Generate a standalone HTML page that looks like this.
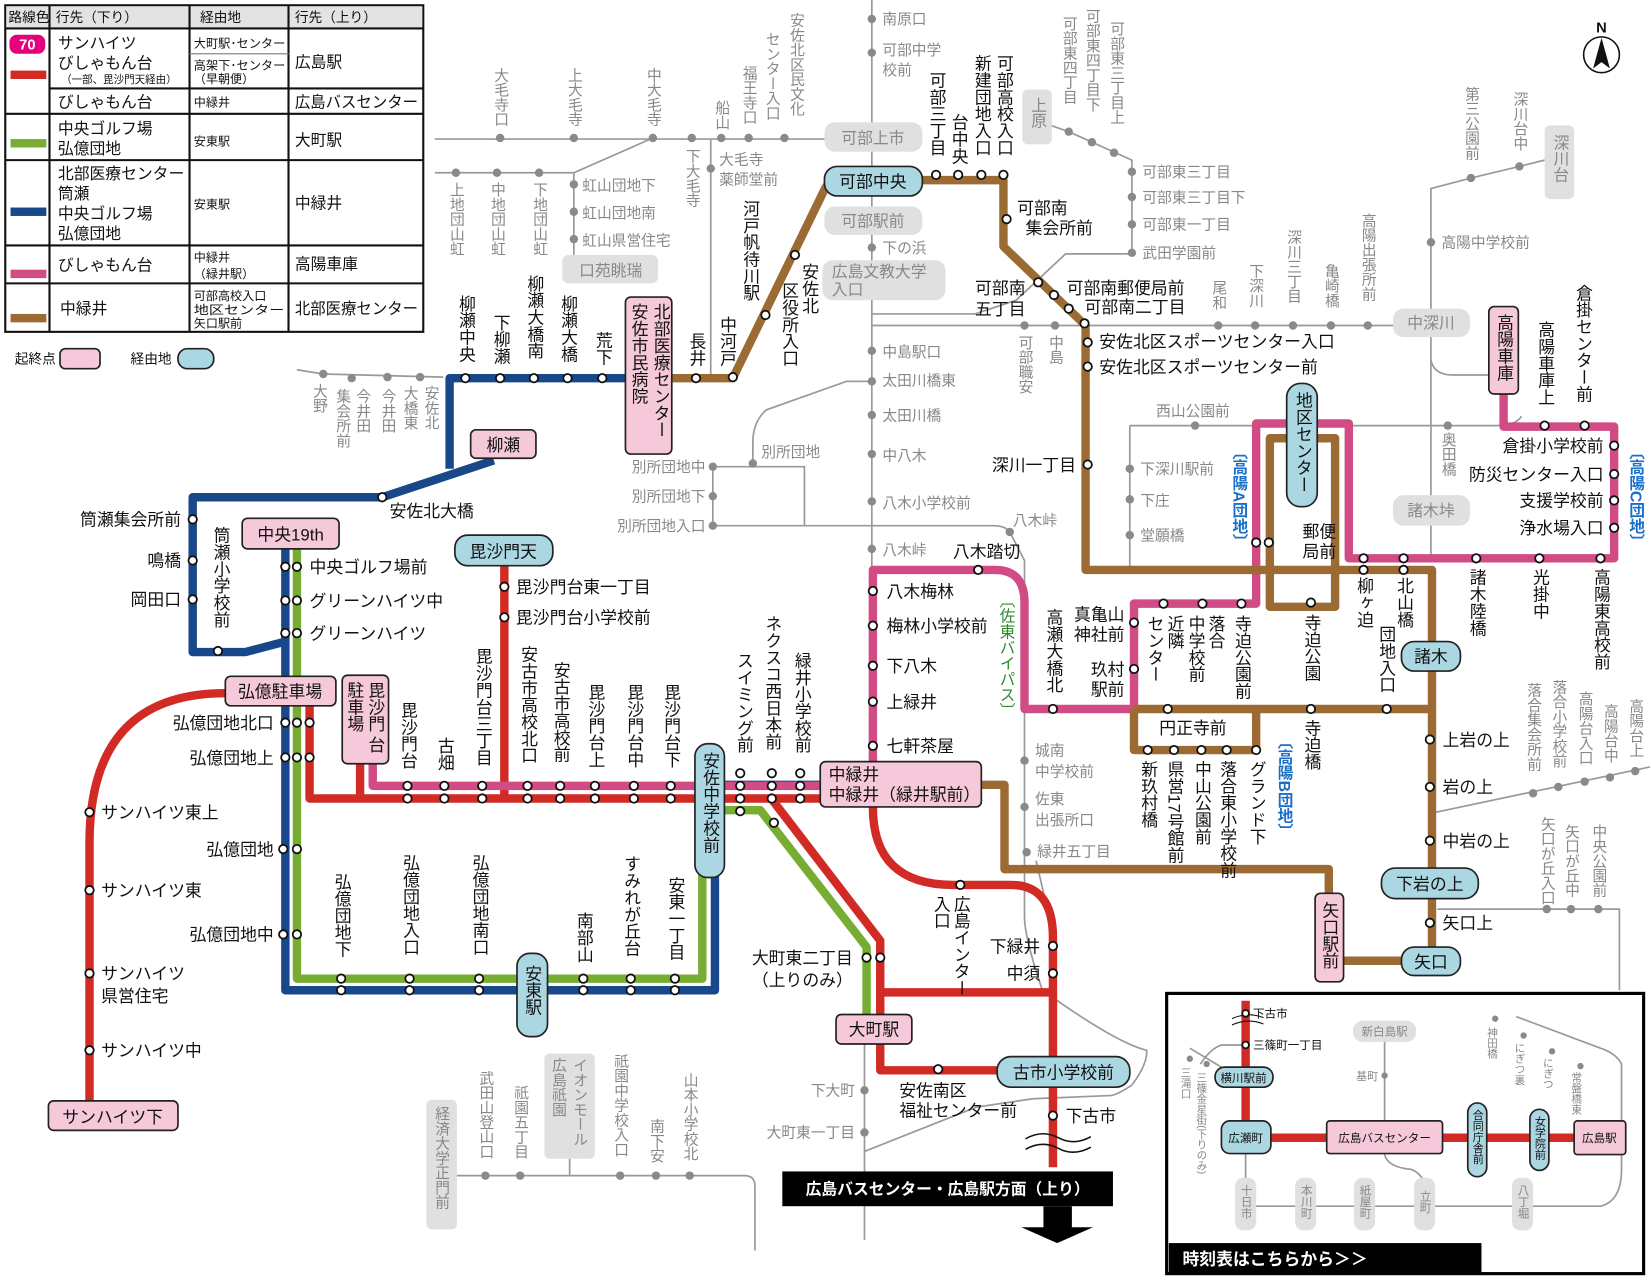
<!DOCTYPE html>
<html><head><meta charset="utf-8"><style>
html,body{margin:0;padding:0;background:#fff;}
svg{display:block;}
text{font-family:"Liberation Sans","Noto Sans CJK JP",sans-serif;}
.b{font-size:16px;fill:#111;}
.g{font-size:14px;fill:#888;}
.v{writing-mode:vertical-rl;}
.r{fill:none;stroke-linejoin:round;stroke-linecap:butt;stroke-width:8;}
.gl{fill:none;stroke:#999;stroke-width:1.6;}
.st{fill:#fff;stroke:#111;stroke-width:1.7;}
.gs{fill:#8a8a8a;}
.pb{fill:#f5c8da;stroke:#222;stroke-width:1.6;}
.bb{fill:#abd7e2;stroke:#222;stroke-width:1.6;}
.gb{fill:#e0e0e0;}
</style></head><body>
<svg width="1651" height="1281" viewBox="0 0 1568 1216" preserveAspectRatio="none" xmlns="http://www.w3.org/2000/svg">
<rect width="1568" height="1216" fill="#fff"/>

<!-- ===== TABLE ===== -->
<g stroke="#111" stroke-width="2" fill="none">
<rect x="5" y="5" width="397" height="310"/>
</g>
<rect x="6" y="6" width="395" height="21" fill="#e3e3e3"/>
<g stroke="#111" stroke-width="2">
<line x1="5" y1="27" x2="402" y2="27"/>
<line x1="47" y1="84" x2="402" y2="84"/>
<line x1="5" y1="108" x2="402" y2="108"/>
<line x1="5" y1="152" x2="402" y2="152"/>
<line x1="5" y1="233" x2="402" y2="233"/>
<line x1="5" y1="269" x2="402" y2="269"/>
<line x1="47" y1="5" x2="47" y2="315"/>
<line x1="180" y1="5" x2="180" y2="315"/>
<line x1="274" y1="5" x2="274" y2="315"/>
</g>
<line x1="180" y1="51" x2="274" y2="51" stroke="#888" stroke-width="1.2"/>
<g font-size="13" fill="#111">
<text x="8" y="21">路線色</text><text x="53" y="21">行先（下り）</text><text x="190" y="21">経由地</text><text x="280" y="21">行先（上り）</text>
</g>
<rect x="9" y="33" width="34" height="18" rx="7" fill="#e5007e"/>
<text x="26" y="47" font-size="14" font-weight="bold" fill="#fff" text-anchor="middle">70</text>
<rect x="10" y="67" width="34" height="8" fill="#d22a24"/>
<rect x="10" y="132" width="34" height="8" fill="#77ad33"/>
<rect x="10" y="197" width="34" height="8" fill="#18488a"/>
<rect x="10" y="256" width="34" height="8" fill="#d14b85"/>
<rect x="10" y="298" width="34" height="8" fill="#9c6a33"/>
<g font-size="15" fill="#111">
<text x="55" y="46">サンハイツ</text><text x="55" y="65">びしゃもん台</text>
<text x="55" y="102">びしゃもん台</text>
<text x="55" y="127">中央ゴルフ場</text><text x="55" y="146">弘億団地</text>
<text x="55" y="170" textLength="120" lengthAdjust="spacingAndGlyphs">北部医療センター</text><text x="55" y="189">筒瀬</text><text x="55" y="208">中央ゴルフ場</text><text x="55" y="227">弘億団地</text>
<text x="55" y="257">びしゃもん台</text>
<text x="57" y="298">中緑井</text>
<text x="280" y="64">広島駅</text><text x="280" y="102" textLength="117" lengthAdjust="spacingAndGlyphs">広島バスセンター</text><text x="280" y="138">大町駅</text><text x="280" y="198">中緑井</text><text x="280" y="256">高陽車庫</text><text x="280" y="298" textLength="117" lengthAdjust="spacingAndGlyphs">北部医療センター</text>
</g>
<text x="58" y="79" font-size="10" fill="#111">（一部、毘沙門天経由）</text>
<g font-size="11.5" fill="#111">
<text x="184" y="45" textLength="87" lengthAdjust="spacingAndGlyphs">大町駅･センター</text><text x="184" y="66" textLength="87" lengthAdjust="spacingAndGlyphs">高架下･センター</text><text x="184" y="79">（早朝便）</text>
<text x="184" y="101">中緑井</text><text x="184" y="138">安東駅</text><text x="184" y="198">安東駅</text>
<text x="184" y="248">中緑井</text><text x="184" y="264">（緑井駅）</text>
<text x="184" y="285">可部高校入口</text><text x="184" y="298" textLength="86" lengthAdjust="spacingAndGlyphs">地区センター</text><text x="184" y="311">矢口駅前</text>
</g>
<text x="14" y="345" font-size="13" fill="#111">起終点</text>
<rect x="57" y="331" width="38" height="19" rx="5" class="pb"/>
<text x="124" y="345" font-size="13" fill="#111">経由地</text>
<rect x="169" y="331" width="34" height="19" rx="9" class="bb"/>

<!-- ===== GRAY LINES ===== -->
<g class="gl">
<path d="M413,132 H783"/>
<path d="M413,164 H545 L620,131"/>
<path d="M545,164 V242"/>
<path d="M675,132 V358"/>
<path d="M828,0 V541"/>
<path d="M876,132 H828"/>
<path d="M282,351 L307,355 L421,358"/>
<path d="M828,298 H926 L965,285 L1012,241 H1075 V152 L1015,125 L995,118"/>
<path d="M828,309 H1323"/>
<path d="M1396,309 H1359"/>
<path d="M1359,530 V179 L1397,169 L1443,158 L1467,152"/>
<path d="M1359,342 Q1362,356 1380,356 H1414"/>
<path d="M804,362 L728,389 Q715,400 715,420 V443"/>
<path d="M828,362 H804"/>
<path d="M677,443 H764 V499"/>
<path d="M677,443 V499 H943 Q955,499 959,505 L973,532 V870 Q973,890 990,940 Q1060,990 1089,997 Q1090,1010 1075,1030 Q1060,1040 1054,1040 L981,1043 L927,1051 L821,1093"/>
<path d="M1073,404 H1193 M1073,404 V541"/>
<path d="M1281,404 H1420 Q1440,404 1445,395"/>
<path d="M1364,771 L1567,728"/>
<path d="M1365,863 H1538 V940"/>
<path d="M821,991 V1177"/>
<path d="M434,1116 H707 Q717,1116 717,1126 V1187"/>
<path d="M541,1100 V1116"/>
<path d="M984,817 L1000,886"/>
</g>
<g class="gs">
<circle cx="475" cy="131" r="4"/><circle cx="545" cy="131" r="4"/><circle cx="620" cy="131" r="4"/><circle cx="657" cy="131" r="4"/><circle cx="685" cy="131" r="4"/><circle cx="711" cy="131" r="4"/><circle cx="745" cy="131" r="4"/>
<circle cx="433" cy="164" r="4"/><circle cx="472" cy="164" r="4"/><circle cx="512" cy="164" r="4"/>
<circle cx="545" cy="175" r="4"/><circle cx="545" cy="201" r="4"/><circle cx="545" cy="227" r="4"/>
<circle cx="675" cy="160" r="4"/>
<circle cx="828" cy="18" r="4"/><circle cx="828" cy="50" r="4"/><circle cx="828" cy="235" r="4"/><circle cx="828" cy="333" r="4"/><circle cx="828" cy="362" r="4"/><circle cx="828" cy="394" r="4"/><circle cx="828" cy="431" r="4"/><circle cx="828" cy="476" r="4"/><circle cx="828" cy="521" r="4"/>
<circle cx="307" cy="355" r="4"/><circle cx="334" cy="359" r="4"/><circle cx="368" cy="358" r="4"/><circle cx="399" cy="358" r="4"/>
<circle cx="677" cy="443" r="4"/><circle cx="677" cy="471" r="4"/><circle cx="677" cy="499" r="4"/><circle cx="715" cy="440" r="4"/><circle cx="959" cy="505" r="4"/>
<circle cx="1015" cy="125" r="4"/><circle cx="1037" cy="135" r="4"/><circle cx="1058" cy="145" r="4"/>
<circle cx="1075" cy="163" r="4"/><circle cx="1075" cy="187" r="4"/><circle cx="1075" cy="213" r="4"/><circle cx="1075" cy="240" r="4"/>
<circle cx="973" cy="309" r="4"/><circle cx="1002" cy="309" r="4"/>
<circle cx="1157" cy="309" r="4"/><circle cx="1192" cy="309" r="4"/><circle cx="1228" cy="309" r="4"/><circle cx="1264" cy="309" r="4"/><circle cx="1299" cy="309" r="4"/>
<circle cx="1397" cy="169" r="4"/><circle cx="1443" cy="158" r="4"/><circle cx="1359" cy="230" r="4"/>
<circle cx="1135" cy="404" r="4"/><circle cx="1073" cy="445" r="4"/><circle cx="1073" cy="474" r="4"/><circle cx="1073" cy="508" r="4"/><circle cx="1375" cy="404" r="4"/>
<circle cx="973" cy="722" r="4"/><circle cx="973" cy="766" r="4"/><circle cx="975" cy="809" r="4"/>
<circle cx="1456" cy="753" r="4"/><circle cx="1480" cy="747" r="4"/><circle cx="1505" cy="742" r="4"/><circle cx="1529" cy="738" r="4"/><circle cx="1553" cy="732" r="4"/>
<circle cx="1469" cy="863" r="4"/><circle cx="1492" cy="863" r="4"/><circle cx="1518" cy="863" r="4"/>
<circle cx="821" cy="1035" r="4"/><circle cx="821" cy="1075" r="4"/>
<circle cx="461" cy="1116" r="4"/><circle cx="494" cy="1116" r="4"/><circle cx="589" cy="1116" r="4"/><circle cx="623" cy="1116" r="4"/><circle cx="655" cy="1116" r="4"/>
</g>

<!-- gray boxes -->
<g class="gb">
<rect x="783" y="116" width="93" height="28" rx="10"/>
<rect x="783" y="196" width="93" height="27" rx="10"/>
<rect x="781" y="247" width="117" height="38" rx="10"/>
<rect x="971" y="85" width="28" height="52" rx="5"/>
<rect x="534" y="242" width="91" height="27" rx="6"/>
<rect x="1323" y="293" width="73" height="27" rx="10"/>
<rect x="1467" y="119" width="28" height="70" rx="5"/>
<rect x="1323" y="470" width="73" height="29" rx="10"/>
<rect x="405" y="1044" width="29" height="123" rx="5"/>
<rect x="517" y="1000" width="48" height="100" rx="5"/>
</g>
<g class="g" fill="#888">
<text x="829" y="136" text-anchor="middle" font-size="15" fill="#888">可部上市</text>
<text x="829" y="215" text-anchor="middle" font-size="15" fill="#888">可部駅前</text>
<text x="790" y="263" font-size="15" fill="#888">広島文教大学</text><text x="790" y="280" font-size="15" fill="#888">入口</text>
<text x="985" y="92" class="v" font-size="15" fill="#888">上原</text>
<text x="580" y="262" text-anchor="middle" font-size="15" fill="#888">口苑眺瑞</text>
<text x="1359" y="312" text-anchor="middle" font-size="15" fill="#888">中深川</text>
<text x="1481" y="128" class="v" font-size="15" fill="#888">深川台</text>
<text x="1359" y="490" text-anchor="middle" font-size="15" fill="#888">諸木垰</text>
<text x="419" y="1050" class="v" fill="#888">経済大学正門前</text>
<text x="550" y="1004" class="v" fill="#888">イオンモール</text>
<text x="530" y="1004" class="v" fill="#888">広島祇園</text>
</g>

<!-- gray labels -->
<g class="g">
<text x="475" y="64" class="v">大毛寺口</text>
<text x="545" y="64" class="v">上大毛寺</text>
<text x="620" y="64" class="v">中大毛寺</text>
<text x="657" y="141" class="v">下大毛寺</text>
<text x="685" y="95" class="v">船山</text>
<text x="711" y="62" class="v">福王寺口</text>
<text x="733" y="30" class="v">センター入口</text>
<text x="756" y="12" class="v">安佐北区民文化</text>
<text x="433" y="173" class="v">上地団山虹</text>
<text x="472" y="173" class="v">中地団山虹</text>
<text x="512" y="173" class="v">下地団山虹</text>
<text x="553" y="181">虹山団地下</text><text x="553" y="207">虹山団地南</text><text x="553" y="233">虹山県営住宅</text>
<text x="683" y="156">大毛寺</text><text x="683" y="175">薬師堂前</text>
<text x="838" y="23">南原口</text><text x="838" y="52">可部中学</text><text x="838" y="71">校前</text>
<text x="838" y="240">下の浜</text><text x="838" y="339">中島駅口</text><text x="838" y="366">太田川橋東</text><text x="838" y="399">太田川橋</text><text x="838" y="437">中八木</text><text x="838" y="482">八木小学校前</text><text x="838" y="527">八木峠</text>
<text x="670" y="448" text-anchor="end">別所団地中</text><text x="670" y="476" text-anchor="end">別所団地下</text><text x="670" y="504" text-anchor="end">別所団地入口</text>
<text x="723" y="434">別所団地</text><text x="962" y="499">八木峠</text>
<text x="303" y="364" class="v">大野</text>
<text x="325" y="369" class="v">集会所前</text>
<text x="344" y="369" class="v">今井田</text>
<text x="368" y="369" class="v">今井田</text>
<text x="389" y="366" class="v">大橋東</text>
<text x="409" y="366" class="v">安佐北</text>
<text x="1015" y="15" class="v">可部東四丁目</text>
<text x="1037" y="8" class="v">可部東四丁目下</text>
<text x="1060" y="20" class="v">可部東三丁目上</text>
<text x="1085" y="168">可部東三丁目</text><text x="1085" y="192">可部東三丁目下</text><text x="1085" y="218">可部東一丁目</text><text x="1085" y="245">武田学園前</text>
<text x="973" y="318" class="v">可部職安</text>
<text x="1002" y="318" class="v">中島</text>
<text x="1157" y="266" class="v">尾和</text>
<text x="1192" y="250" class="v">下深川</text>
<text x="1228" y="218" class="v">深川三丁目</text>
<text x="1264" y="250" class="v">亀崎橋</text>
<text x="1299" y="202" class="v">高陽出張所前</text>
<text x="1397" y="82" class="v">第三公園前</text>
<text x="1443" y="87" class="v">深川台中</text>
<text x="1369" y="235">高陽中学校前</text>
<text x="1098" y="395">西山公園前</text>
<text x="1083" y="450">下深川駅前</text><text x="1083" y="480">下庄</text><text x="1083" y="513">堂願橋</text>
<text x="1375" y="410" class="v">奥田橋</text>
<text x="983" y="717">城南</text><text x="983" y="737">中学校前</text><text x="983" y="763">佐東</text><text x="983" y="783">出張所口</text><text x="985" y="813">緑井五丁目</text>
<text x="1456" y="648" class="v">落合集会所前</text>
<text x="1480" y="645" class="v">落合小学校前</text>
<text x="1505" y="656" class="v">高陽台入口</text>
<text x="1529" y="668" class="v">高陽台中</text>
<text x="1553" y="663" class="v">高陽台上</text>
<text x="1469" y="775" class="v">矢口が丘入口</text>
<text x="1492" y="782" class="v">矢口が丘中</text>
<text x="1518" y="782" class="v">中央公園前</text>
<text x="812" y="1040" text-anchor="end">下大町</text><text x="812" y="1080" text-anchor="end">大町東一丁目</text>
<text x="461" y="1016" class="v">武田山登山口</text>
<text x="494" y="1030" class="v">祇園五丁目</text>
<text x="589" y="1000" class="v">祇園中学校入口</text>
<text x="623" y="1062" class="v">南下安</text>
<text x="655" y="1018" class="v">山本小学校北</text>
</g>

<!-- ===== ROUTES ===== -->
<path class="r" stroke="#77ad33" d="M282,521 V929 H667 V769 H722 L823,899 V964"/>
<path class="r" stroke="#18488a" d="M594,359 H427 V445"/>
<path class="r" stroke="#18488a" d="M469,437 L363,472 H183 V619 H233 L271,609"/>
<path class="r" stroke="#18488a" d="M271,521 V940 H679 V745 H779"/>
<path class="r" stroke="#d22a24" d="M85,1045 V800 Q85,658 214,658"/>
<path class="r" stroke="#d22a24" d="M294,670 V758 H779"/>
<path class="r" stroke="#d22a24" d="M342,725 V758"/>
<path class="r" stroke="#d22a24" d="M479,537 V758"/>
<path class="r" stroke="#d22a24" d="M829,766 Q829,840 905,840 H960 Q1000,840 1000,890 V1108"/>
<path class="r" stroke="#d22a24" d="M734,760 L836,893 V1016 H947"/>
<path class="r" stroke="#d22a24" d="M836,942 H1000"/>
<path class="r" stroke="#d14b85" d="M354,725 V746 H779"/>
<path class="r" stroke="#d14b85" d="M829,723 V541 H945 Q973,541 973,572 V673 H1077 V573 H1193 V402 H1281 V530 H1533 V405 H1428 V374"/>
<path class="r" stroke="#9c6a33" d="M638,359 H696 L783,180 Q787,171 800,171 H953 V234 L1031,309 V541 H1360 V905"/>
<path class="r" stroke="#9c6a33" d="M1206,416 V576 H1268 V416 Z"/>
<path class="r" stroke="#9c6a33" d="M1077,673 H1360 M1077,673 V712 H1193 V673"/>
<path class="r" stroke="#9c6a33" d="M1331,912 H1262 V825 H954 V745 H932"/>

<!-- ===== STOPS ===== -->
<g class="st">
<circle cx="442" cy="359" r="4"/><circle cx="475" cy="359" r="4"/><circle cx="507" cy="359" r="4"/><circle cx="539" cy="359" r="4"/><circle cx="572" cy="359" r="4"/>
<circle cx="661" cy="359" r="4"/><circle cx="696" cy="358" r="4"/><circle cx="727" cy="299" r="4"/><circle cx="755" cy="242" r="4"/>
<circle cx="889" cy="166" r="4"/><circle cx="910" cy="166" r="4"/><circle cx="932" cy="166" r="4"/><circle cx="953" cy="166" r="4"/>
<circle cx="956" cy="208" r="4"/><circle cx="986" cy="268" r="4"/><circle cx="1001" cy="280" r="4"/><circle cx="1015" cy="293" r="4"/><circle cx="1030" cy="307" r="4"/>
<circle cx="1033" cy="325" r="4"/><circle cx="1033" cy="348" r="4"/><circle cx="1033" cy="441" r="4"/>
<circle cx="363" cy="472" r="4"/>
<circle cx="183" cy="493" r="4"/><circle cx="183" cy="532" r="4"/><circle cx="183" cy="569" r="4"/><circle cx="207" cy="618" r="4"/>
<circle cx="271" cy="538" r="4"/><circle cx="282" cy="538" r="4"/><circle cx="271" cy="570" r="4"/><circle cx="282" cy="570" r="4"/><circle cx="271" cy="601" r="4"/><circle cx="282" cy="601" r="4"/>
<circle cx="271" cy="686" r="4"/><circle cx="282" cy="686" r="4"/><circle cx="294" cy="686" r="4"/>
<circle cx="271" cy="719" r="4"/><circle cx="282" cy="719" r="4"/><circle cx="294" cy="719" r="4"/>
<circle cx="269" cy="806" r="4"/><circle cx="282" cy="806" r="4"/><circle cx="269" cy="887" r="4"/><circle cx="282" cy="887" r="4"/>
<circle cx="85" cy="771" r="4"/><circle cx="85" cy="845" r="4"/><circle cx="85" cy="924" r="4"/><circle cx="85" cy="997" r="4"/>
<circle cx="479" cy="557" r="4"/><circle cx="479" cy="586" r="4"/>
<circle cx="324" cy="929" r="4"/><circle cx="324" cy="940" r="4"/><circle cx="389" cy="929" r="4"/><circle cx="389" cy="940" r="4"/><circle cx="455" cy="929" r="4"/><circle cx="455" cy="940" r="4"/>
<circle cx="554" cy="929" r="4"/><circle cx="554" cy="940" r="4"/><circle cx="599" cy="929" r="4"/><circle cx="599" cy="940" r="4"/><circle cx="641" cy="929" r="4"/><circle cx="641" cy="940" r="4"/>
<circle cx="387" cy="746" r="4"/><circle cx="387" cy="758" r="4"/>
<circle cx="422" cy="746" r="4"/><circle cx="422" cy="758" r="4"/>
<circle cx="458" cy="746" r="4"/><circle cx="458" cy="758" r="4"/>
<circle cx="501" cy="746" r="4"/><circle cx="501" cy="758" r="4"/>
<circle cx="532" cy="746" r="4"/><circle cx="532" cy="758" r="4"/>
<circle cx="565" cy="746" r="4"/><circle cx="565" cy="758" r="4"/>
<circle cx="602" cy="746" r="4"/><circle cx="602" cy="758" r="4"/>
<circle cx="637" cy="746" r="4"/><circle cx="637" cy="758" r="4"/>
<circle cx="703" cy="734" r="4"/><circle cx="703" cy="746" r="4"/><circle cx="703" cy="758" r="4"/><circle cx="703" cy="770" r="4"/>
<circle cx="733" cy="734" r="4"/><circle cx="733" cy="746" r="4"/><circle cx="733" cy="758" r="4"/>
<circle cx="760" cy="734" r="4"/><circle cx="760" cy="746" r="4"/><circle cx="760" cy="758" r="4"/>
<circle cx="735" cy="781" r="4"/>
<circle cx="823" cy="909" r="4"/><circle cx="836" cy="909" r="4"/>
<circle cx="912" cy="840" r="4"/><circle cx="1000" cy="898" r="4"/><circle cx="1000" cy="924" r="4"/><circle cx="891" cy="1015" r="4"/><circle cx="1000" cy="1059" r="4"/>
<circle cx="829" cy="561" r="4"/><circle cx="829" cy="594" r="4"/><circle cx="829" cy="632" r="4"/><circle cx="829" cy="666" r="4"/><circle cx="829" cy="708" r="4"/><circle cx="929" cy="541" r="4"/>
<circle cx="1000" cy="673" r="4"/><circle cx="1077" cy="591" r="4"/><circle cx="1077" cy="635" r="4"/>
<circle cx="1105" cy="573" r="4"/><circle cx="1142" cy="573" r="4"/><circle cx="1179" cy="573" r="4"/><circle cx="1245" cy="572" r="4"/>
<circle cx="1193" cy="515" r="4"/><circle cx="1205" cy="515" r="4"/>
<circle cx="1109" cy="673" r="4"/><circle cx="1245" cy="673" r="4"/><circle cx="1317" cy="673" r="4"/>
<circle cx="1090" cy="712" r="4"/><circle cx="1115" cy="712" r="4"/><circle cx="1141" cy="712" r="4"/><circle cx="1165" cy="712" r="4"/><circle cx="1193" cy="712" r="4"/>
<circle cx="1295" cy="530" r="4"/><circle cx="1295" cy="541" r="4"/><circle cx="1333" cy="530" r="4"/><circle cx="1333" cy="541" r="4"/>
<circle cx="1402" cy="530" r="4"/><circle cx="1462" cy="530" r="4"/><circle cx="1520" cy="530" r="4"/>
<circle cx="1533" cy="423" r="4"/><circle cx="1533" cy="450" r="4"/><circle cx="1533" cy="475" r="4"/><circle cx="1533" cy="501" r="4"/>
<circle cx="1467" cy="404" r="4"/><circle cx="1505" cy="404" r="4"/>
<circle cx="1358" cy="702" r="4"/><circle cx="1358" cy="747" r="4"/><circle cx="1358" cy="798" r="4"/><circle cx="1358" cy="876" r="4"/>
</g>

<!-- ===== BOXES ===== -->
<rect x="594" y="282" width="44" height="149" rx="5" class="pb"/>
<text x="627" y="288" class="v b" font-size="17">北部医療センター</text>
<text x="606" y="288" class="v b" font-size="17">安佐市民病院</text>
<rect x="447" y="408" width="62" height="27" rx="5" class="pb"/><text x="478" y="428" class="b" text-anchor="middle">柳瀬</text>
<rect x="230" y="492" width="92" height="29" rx="5" class="pb"/><text x="276" y="513" class="b" text-anchor="middle">中央19th</text>
<rect x="432" y="508" width="93" height="29" rx="12" class="bb"/><text x="478" y="529" class="b" text-anchor="middle">毘沙門天</text>
<rect x="214" y="642" width="105" height="28" rx="5" class="pb"/><text x="266" y="662" class="b" text-anchor="middle">弘億駐車場</text>
<rect x="325" y="641" width="44" height="84" rx="5" class="pb"/>
<text x="356" y="647" class="v b">毘沙門</text><text x="356" y="699" class="v b">台</text>
<text x="336" y="647" class="v b">駐車場</text>
<rect x="46" y="1045" width="123" height="28" rx="5" class="pb"/><text x="107" y="1066" class="b" text-anchor="middle">サンハイツ下</text>
<rect x="660" y="706" width="28" height="127" rx="12" class="bb"/><text x="674" y="714" class="v b">安佐中学校前</text>
<rect x="491" y="905" width="29" height="79" rx="12" class="bb"/><text x="505" y="916" class="v b">安東駅</text>
<rect x="779" y="723" width="153" height="43" rx="5" class="pb"/>
<text x="787" y="741" class="b">中緑井</text><text x="787" y="760" class="b">中緑井（緑井駅前）</text>
<rect x="783" y="158" width="93" height="28" rx="12" class="bb"/><text x="829" y="178" class="b" text-anchor="middle">可部中央</text>
<rect x="794" y="963" width="72" height="28" rx="5" class="pb"/><text x="830" y="983" class="b" text-anchor="middle">大町駅</text>
<rect x="947" y="1003" width="126" height="29" rx="13" class="bb"/><text x="1010" y="1024" class="b" text-anchor="middle">古市小学校前</text>
<rect x="1222" y="364" width="29" height="117" rx="13" class="bb"/><text x="1237" y="372" class="v b">地区センター</text>
<rect x="1414" y="291" width="28" height="83" rx="5" class="pb"/><text x="1428" y="298" class="v b">高陽車庫</text>
<rect x="1331" y="609" width="56" height="28" rx="12" class="bb"/><text x="1359" y="629" class="b" text-anchor="middle">諸木</text>
<rect x="1312" y="824" width="92" height="29" rx="13" class="bb"/><text x="1358" y="845" class="b" text-anchor="middle">下岩の上</text>
<rect x="1331" y="899" width="56" height="27" rx="12" class="bb"/><text x="1359" y="919" class="b" text-anchor="middle">矢口</text>
<rect x="1249" y="848" width="27" height="84" rx="5" class="pb"/><text x="1262" y="856" class="v b">矢口駅前</text>

<!-- ===== BLACK LABELS ===== -->
<g class="b">
<text x="442" y="280" class="v">柳瀬中央</text>
<text x="475" y="298" class="v">下柳瀬</text>
<text x="507" y="261" class="v">柳瀬大橋南</text>
<text x="539" y="280" class="v">柳瀬大橋</text>
<text x="572" y="315" class="v">荒下</text>
<text x="661" y="316" class="v">長井</text>
<text x="690" y="300" class="v">中河戸</text>
<text x="712" y="190" class="v">河戸帆待川駅</text>
<text x="768" y="250" class="v">安佐北</text>
<text x="749" y="268" class="v">区役所入口</text>
<text x="889" y="68" class="v">可部三丁目</text>
<text x="910" y="108" class="v">台中央</text>
<text x="932" y="52" class="v">新建団地入口</text>
<text x="953" y="52" class="v">可部高校入口</text>
<text x="966" y="203">可部南</text><text x="974" y="222">集会所前</text>
<text x="926" y="279">可部南</text><text x="926" y="299">五丁目</text>
<text x="1013" y="279">可部南郵便局前</text><text x="1030" y="297">可部南二丁目</text>
<text x="1044" y="330">安佐北区スポーツセンター入口</text>
<text x="1044" y="354">安佐北区スポーツセンター前</text>
<text x="1022" y="447" text-anchor="end">深川一丁目</text>
<text x="370" y="491">安佐北大橋</text>
<text x="172" y="499" text-anchor="end">筒瀬集会所前</text>
<text x="172" y="538" text-anchor="end">鳴橋</text>
<text x="172" y="575" text-anchor="end">岡田口</text>
<text x="209" y="500" class="v">筒瀬小学校前</text>
<text x="294" y="544">中央ゴルフ場前</text>
<text x="294" y="576">グリーンハイツ中</text>
<text x="294" y="607">グリーンハイツ</text>
<text x="260" y="692" text-anchor="end">弘億団地北口</text>
<text x="260" y="725" text-anchor="end">弘億団地上</text>
<text x="260" y="812" text-anchor="end">弘億団地</text>
<text x="260" y="893" text-anchor="end">弘億団地中</text>
<text x="96" y="777">サンハイツ東上</text>
<text x="96" y="851">サンハイツ東</text>
<text x="96" y="930">サンハイツ</text><text x="96" y="951">県営住宅</text>
<text x="96" y="1003">サンハイツ中</text>
<text x="490" y="563">毘沙門台東一丁目</text>
<text x="490" y="592">毘沙門台小学校前</text>
<text x="387" y="666" class="v">毘沙門台</text>
<text x="422" y="700" class="v">古畑</text>
<text x="458" y="615" class="v">毘沙門台三丁目</text>
<text x="501" y="613" class="v">安古市高校北口</text>
<text x="532" y="628" class="v">安古市高校前</text>
<text x="565" y="649" class="v">毘沙門台上</text>
<text x="602" y="649" class="v">毘沙門台中</text>
<text x="637" y="649" class="v">毘沙門台下</text>
<text x="706" y="619" class="v">スイミング前</text>
<text x="733" y="584" class="v">ネクスコ西日本前</text>
<text x="761" y="619" class="v">緑井小学校前</text>
<text x="324" y="829" class="v">弘億団地下</text>
<text x="389" y="811" class="v">弘億団地入口</text>
<text x="455" y="811" class="v">弘億団地南口</text>
<text x="554" y="866" class="v">南部山</text>
<text x="599" y="812" class="v">すみれが丘台</text>
<text x="641" y="832" class="v">安東一丁目</text>
<text x="842" y="567">八木梅林</text>
<text x="842" y="600">梅林小学校前</text>
<text x="842" y="638">下八木</text>
<text x="842" y="672">上緑井</text>
<text x="842" y="714">七軒茶屋</text>
<text x="905" y="529">八木踏切</text>
<text x="955" y="562" class="v" fill="#2e8b2e" font-size="15">〔佐東バイパス〕</text>
<text x="1000" y="578" class="v">高瀬大橋北</text>
<text x="1068" y="589" text-anchor="end">真亀山</text><text x="1068" y="608" text-anchor="end">神社前</text>
<text x="1068" y="641" text-anchor="end">玖村</text><text x="1068" y="660" text-anchor="end">駅前</text>
<text x="1115" y="584" class="v">近隣</text><text x="1096" y="584" class="v">センター</text>
<text x="1154" y="584" class="v">落合</text><text x="1135" y="584" class="v">中学校前</text>
<text x="1179" y="584" class="v">寺迫公園前</text>
<text x="1245" y="583" class="v">寺迫公園</text>
<text x="1245" y="683" class="v">寺迫橋</text>
<text x="1237" y="510">郵便</text><text x="1237" y="529">局前</text>
<text x="1133" y="697" text-anchor="middle">円正寺前</text>
<text x="1090" y="722" class="v">新玖村橋</text>
<text x="1115" y="722" class="v">県営17号館前</text>
<text x="1141" y="722" class="v">中山公園前</text>
<text x="1165" y="722" class="v">落合東小学校前</text>
<text x="1193" y="722" class="v">グランド下</text>
<text x="1176" y="421" class="v" fill="#1a6fc9" font-size="15" font-weight="bold">〔高陽A団地〕</text>
<text x="1219" y="696" class="v" fill="#1a6fc9" font-size="15" font-weight="bold">〔高陽B団地〕</text>
<text x="1553" y="421" class="v" fill="#1a6fc9" font-size="15" font-weight="bold">〔高陽C団地〕</text>
<text x="1467" y="305" class="v">高陽車庫上</text>
<text x="1503" y="270" class="v">倉掛センター前</text>
<text x="1523" y="429" text-anchor="end">倉掛小学校前</text>
<text x="1523" y="456" text-anchor="end">防災センター入口</text>
<text x="1523" y="481" text-anchor="end">支援学校前</text>
<text x="1523" y="507" text-anchor="end">浄水場入口</text>
<text x="1295" y="548" class="v">柳ヶ迫</text>
<text x="1333" y="548" class="v">北山橋</text>
<text x="1316" y="594" class="v">団地入口</text>
<text x="1402" y="540" class="v">諸木陸橋</text>
<text x="1462" y="540" class="v">光掛中</text>
<text x="1520" y="540" class="v">高陽東高校前</text>
<text x="1370" y="708">上岩の上</text>
<text x="1370" y="753">岩の上</text>
<text x="1370" y="804">中岩の上</text>
<text x="1370" y="882">矢口上</text>
<text x="810" y="915" text-anchor="end">大町東二丁目</text>
<text x="810" y="936" text-anchor="end">（上りのみ）</text>
<text x="912" y="850" class="v">広島インター</text>
<text x="893" y="850" class="v">入口</text>
<text x="988" y="904" text-anchor="end">下緑井</text>
<text x="988" y="930" text-anchor="end">中須</text>
<text x="854" y="1041">安佐南区</text>
<text x="854" y="1060">福祉センター前</text>
<text x="1012" y="1065">下古市</text>
</g>
<path d="M974,1081 Q990,1072 1005,1080 Q1020,1088 1036,1079 M974,1091 Q990,1082 1005,1090 Q1020,1098 1036,1089" stroke="#111" stroke-width="1.5" fill="none"/>

<rect x="743" y="1112" width="314" height="33" fill="#000"/>
<text x="900" y="1134" text-anchor="middle" fill="#fff" font-size="15" font-weight="bold">広島バスセンター・広島駅方面（上り）</text>
<path d="M991,1145 H1018 V1165 H1038 L1004,1180 L970,1165 H991 Z" fill="#000"/>

<circle cx="1521" cy="52" r="17" fill="#fff" stroke="#111" stroke-width="1.5"/>
<path d="M1521,36 L1529,65 L1521,59 L1513,65 Z" fill="#111"/>
<text x="1521" y="31" text-anchor="middle" font-size="14" font-weight="bold" fill="#111">N</text>

<!-- ===== INSET ===== -->
<rect x="1108" y="943" width="453" height="266" fill="#fff" stroke="#000" stroke-width="3"/>
<g class="gl">
<path d="M1130,995 L1160,1013"/>
<path d="M1183,992 H1160 Q1150,995 1140,1010"/>
<path d="M1183,1095 V1145"/>
<path d="M1183,1145 H1520 Q1540,1140 1540,1110 V1010 Q1535,1000 1520,995 L1440,965"/>
<path d="M1315,985 V1096 Q1318,1108 1340,1110 Q1355,1115 1360,1145"/>
</g>
<path class="r" stroke="#d22a24" stroke-width="7" d="M1183,950 V1064"/>
<path class="r" stroke="#d22a24" stroke-width="7" d="M1207,1080 H1495"/>
<path d="M1170,967 Q1185,960 1200,966 M1170,973 Q1185,966 1200,972" stroke="#111" stroke-width="1" fill="none"/>
<g class="st"><circle cx="1183" cy="962" r="3.2"/><circle cx="1183" cy="992" r="3.2"/></g>
<g class="gs"><circle cx="1130" cy="1005" r="3"/><circle cx="1146" cy="1010" r="3"/><circle cx="1315" cy="1021" r="3"/><circle cx="1420" cy="967" r="3"/><circle cx="1447" cy="983" r="3"/><circle cx="1474" cy="998" r="3"/><circle cx="1501" cy="1012" r="3"/></g>
<rect x="1154" y="1013" width="55" height="19" rx="9" class="bb"/><text x="1181" y="1027" font-size="11" text-anchor="middle" fill="#111">横川駅前</text>
<rect x="1160" y="1064" width="47" height="31" rx="8" class="bb"/><text x="1183" y="1084" font-size="11" text-anchor="middle" fill="#111">広瀬町</text>
<rect x="1260" y="1064" width="110" height="31" rx="3" class="pb"/><text x="1315" y="1084" font-size="11" text-anchor="middle" fill="#111">広島バスセンター</text>
<rect x="1394" y="1047" width="18" height="70" rx="9" class="bb"/><text x="1403" y="1053" class="v" font-size="10.5" fill="#111">合同庁舎前</text>
<rect x="1453" y="1053" width="18" height="58" rx="9" class="bb"/><text x="1462" y="1059" class="v" font-size="10.5" fill="#111">女学院前</text>
<rect x="1495" y="1064" width="49" height="32" rx="3" class="pb"/><text x="1519" y="1084" font-size="11" text-anchor="middle" fill="#111">広島駅</text>
<text x="1190" y="966" font-size="11" fill="#111">下古市</text>
<text x="1190" y="996" font-size="11" fill="#111">三篠町一丁目</text>
<rect x="1285" y="969" width="60" height="20" rx="9" class="gb"/><text x="1315" y="983" font-size="11" text-anchor="middle" fill="#888">新白島駅</text>
<text x="1309" y="1025" font-size="10.5" text-anchor="end" fill="#888">基町</text>
<text x="1126" y="1013" class="v" font-size="10" fill="#888">三滝口</text>
<text x="1141" y="1018" class="v" font-size="10" fill="#888">三篠金星街(下りのみ)</text>
<text x="1417" y="975" class="v" font-size="10" fill="#888">神田橋</text>
<text x="1443" y="990" class="v" font-size="10" fill="#888">にぎつ裏</text>
<text x="1470" y="1004" class="v" font-size="10" fill="#888">にぎつ</text>
<text x="1497" y="1018" class="v" font-size="10" fill="#888">常盤橋東</text>
<g class="gb">
<rect x="1173" y="1118" width="20" height="50" rx="8"/><rect x="1230" y="1118" width="20" height="50" rx="8"/><rect x="1286" y="1118" width="20" height="50" rx="8"/><rect x="1343" y="1118" width="20" height="50" rx="8"/><rect x="1436" y="1118" width="20" height="50" rx="8"/>
</g>
<g font-size="11" fill="#888">
<text x="1183" y="1124" class="v">十日市</text><text x="1240" y="1124" class="v">本川町</text><text x="1296" y="1124" class="v">紙屋町</text><text x="1353" y="1130" class="v">立町</text><text x="1446" y="1124" class="v">八丁堀</text>
</g>
<rect x="1110" y="1180" width="297" height="29" fill="#000"/>
<text x="1123" y="1201" font-size="16" font-weight="bold" fill="#fff">時刻表はこちらから＞＞</text>
</svg>
</body></html>
